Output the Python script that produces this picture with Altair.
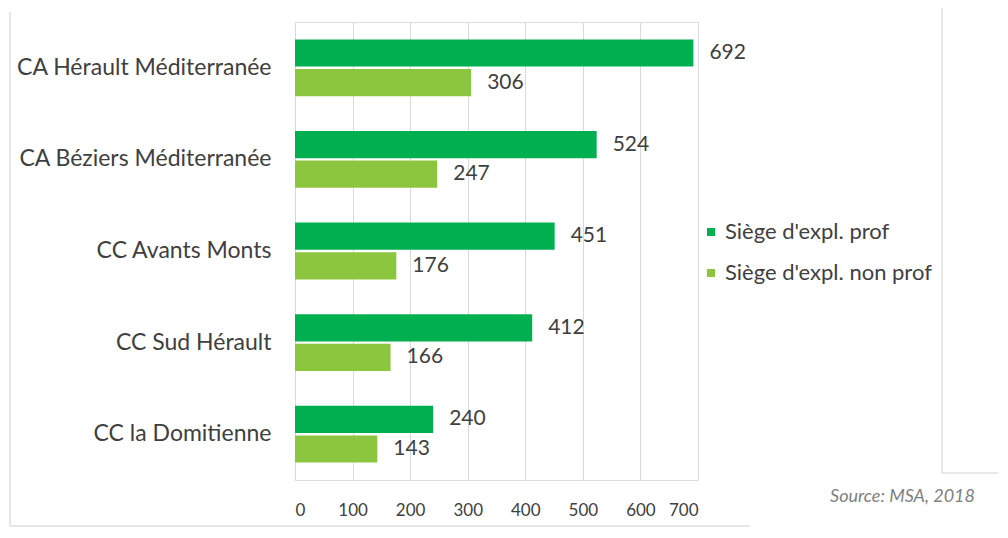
import altair as alt
import pandas as pd

categories = ["CA Hérault Méditerranée", "CA Béziers Méditerranée", "CC Avants Monts",
              "CC Sud Hérault", "CC la Domitienne"]
series = ["Siège d'expl. prof", "Siège d'expl. non prof"]
prof = [692, 524, 451, 412, 240]
non_prof = [306, 247, 176, 166, 143]
colors = ["#00b050", "#8cc63f"]
x_ticks = [0, 100, 200, 300, 400, 500, 600, 700]

rows = []
for c, a, b in zip(categories, prof, non_prof):
    rows.append({"cat": c, "serie": series[0], "val": a})
    rows.append({"cat": c, "serie": series[1], "val": b})
df = pd.DataFrame(rows)

FONT = "Lato"
TXT = "#404040"

base = alt.Chart(df).encode(
    y=alt.Y("cat:N", sort=categories, title=None,
            scale=alt.Scale(paddingInner=0.38, paddingOuter=0.19),
            axis=alt.Axis(labelFontSize=23, labelColor=TXT, labelFont=FONT,
                          labelPadding=24, ticks=False, domain=False, labelLimit=300)),
    yOffset=alt.YOffset("serie:N", sort=series, scale=alt.Scale(paddingInner=0.08)),
    x=alt.X("val:Q", title=None,
            scale=alt.Scale(domain=[0, 700], nice=False),
            axis=alt.Axis(values=x_ticks, labelFontSize=17, labelColor=TXT, labelFont=FONT,
                          labelPadding=22, ticks=False, domain=False,
                          grid=True, gridColor="#d9d9d9", gridWidth=1)),
)

bars = base.mark_bar().encode(
    color=alt.Color("serie:N", sort=series,
                    scale=alt.Scale(domain=series, range=colors),
                    legend=alt.Legend(title=None, orient="none", legendX=405, legendY=199,
                                      symbolType="square", symbolSize=64,
                                      labelFontSize=22, labelColor=TXT, labelFont=FONT,
                                      labelLimit=400, rowPadding=19, labelOffset=3))
)

labels = base.mark_text(align="left", baseline="middle", dx=16, fontSize=21,
                        color=TXT, font=FONT).encode(text="val:Q")

source = alt.Chart(pd.DataFrame({"t": ["Source: MSA, 2018"]})).mark_text(
    align="right", baseline="middle", fontSize=18, fontStyle="italic",
    color="#808080", font=FONT
).encode(text="t:N", x=alt.value(680), y=alt.value(475))

frame_style = dict(color="#d0d0d0", strokeWidth=1)
frame_left = alt.Chart(pd.DataFrame({"k": [0]})).mark_rule(**frame_style).encode(
    x=alt.value(-285), y=alt.value(-10), y2=alt.value(504))
frame_bottom = alt.Chart(pd.DataFrame({"k": [0]})).mark_rule(**frame_style).encode(
    x=alt.value(-285), x2=alt.value(455), y=alt.value(504))
frame_right = alt.Chart(pd.DataFrame({"k": [0]})).mark_rule(**frame_style).encode(
    x=alt.value(647), y=alt.value(-22), y2=alt.value(451))
frame_right_h = alt.Chart(pd.DataFrame({"k": [0]})).mark_rule(**frame_style).encode(
    x=alt.value(647), x2=alt.value(703), y=alt.value(451))

chart = alt.layer(frame_left, frame_bottom, frame_right, frame_right_h,
                  bars, labels, source).properties(
    width=403, height=458,
    autosize=alt.AutoSizeParams(type="none"),
    padding={"left": 287, "top": 14, "right": 300, "bottom": 48},
).configure_view(stroke=None).configure(background="white")

chart.save("out.html", embed_options={"renderer": "svg", "actions": False})
